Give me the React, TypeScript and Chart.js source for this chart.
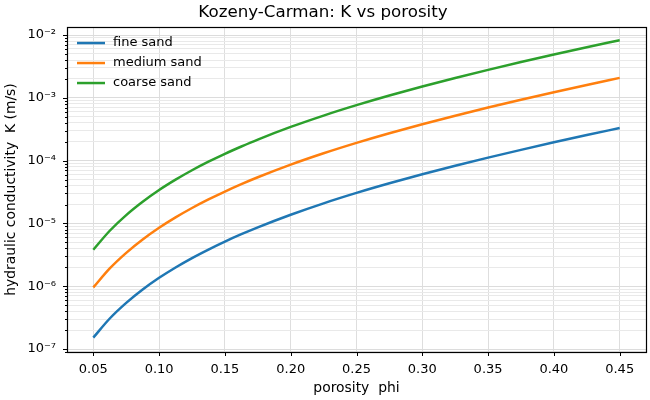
import { useEffect, useRef } from "react";
import { Chart, registerables } from "chart.js";

Chart.register(...registerables);

// Porosity sample points and hydraulic conductivity (m/s) for each sand class
const porosity = [
  0.05, 0.0625, 0.075, 0.0875, 0.1, 0.1125, 0.125, 0.1375, 0.15, 0.1625, 0.175,
  0.2, 0.225, 0.25, 0.275, 0.3, 0.325, 0.35, 0.375, 0.4, 0.425, 0.45,
];
const fineSand = [
  1.52e-7, 3.06e-7, 5.42e-7, 8.85e-7, 1.36e-6, 1.99e-6, 2.81e-6, 3.84e-6,
  5.14e-6, 6.73e-6, 8.66e-6, 1.375e-5, 2.09e-5, 3.06e-5, 4.35e-5, 6.06e-5,
  8.29e-5, 1.117e-4, 1.485e-4, 1.956e-4, 2.554e-4, 3.31e-4,
];
const mediumSand = [
  9.56e-7, 1.92e-6, 3.4e-6, 5.55e-6, 8.52e-6, 1.247e-5, 1.76e-5, 2.41e-5,
  3.22e-5, 4.22e-5, 5.43e-5, 8.63e-5, 1.309e-4, 1.917e-4, 2.73e-4, 3.8e-4,
  5.2e-4, 7.0e-4, 9.32e-4, 1.227e-3, 1.602e-3, 2.078e-3,
];
const coarseSand = [
  3.81e-6, 7.64e-6, 1.356e-5, 2.21e-5, 3.4e-5, 4.97e-5, 7.02e-5, 9.61e-5,
  1.285e-4, 1.68e-4, 2.165e-4, 3.44e-4, 5.22e-4, 7.64e-4, 1.088e-3, 1.515e-3,
  2.072e-3, 2.79e-3, 3.71e-3, 4.89e-3, 6.39e-3, 8.28e-3,
];
const seriesLabels = ["fine sand", "medium sand", "coarse sand"];
const seriesColors = ["#1f77b4", "#ff7f0e", "#2ca02c"];

const xTicks = [0.05, 0.1, 0.15, 0.2, 0.25, 0.3, 0.35, 0.4, 0.45];
const yDecades = [-8, -7, -6, -5, -4, -3, -2];
const yMin = 8.96e-8;
const yMax = 1.341e-2;

const FONT = "'DejaVu Sans', sans-serif";
const SUP: Record<string, string> = {
  "-": "\u207b", "0": "\u2070", "1": "\u00b9", "2": "\u00b2", "3": "\u00b3",
  "4": "\u2074", "5": "\u2075", "6": "\u2076", "7": "\u2077", "8": "\u2078", "9": "\u2079",
};

function decadeOf(v: number): number | null {
  const e = Math.round(Math.log10(v));
  return Math.abs(v / Math.pow(10, e) - 1) < 1e-6 ? e : null;
}

function powLabel(e: number): string {
  return "10" + String(e).split("").map((c) => SUP[c] ?? c).join("");
}

// Every 1..9 x 10^n value inside the axis range
const yTickValues: number[] = [];
yDecades.forEach((e) => {
  for (let m = 1; m <= 9; m++) {
    const v = m * Math.pow(10, e);
    if (v >= yMin && v <= yMax) yTickValues.push(v);
  }
});

const framePlugin = {
  id: "frameAndTicks",
  afterDraw(chart: any) {
    const { ctx, chartArea, scales } = chart;
    const { left, right, top, bottom } = chartArea;
    ctx.save();
    ctx.strokeStyle = "#000";
    ctx.lineWidth = 1;
    // y tick marks (long for decades, short for minors)
    scales.y.ticks.forEach((t: any) => {
      const p = Math.round(scales.y.getPixelForValue(t.value)) + 0.5;
      const len = decadeOf(t.value) !== null ? 4 : 2;
      ctx.beginPath();
      ctx.moveTo(Math.round(left) - len, p);
      ctx.lineTo(Math.round(left), p);
      ctx.stroke();
    });
    // x tick marks
    scales.x.ticks.forEach((t: any) => {
      const p = Math.round(scales.x.getPixelForValue(t.value)) + 0.5;
      ctx.beginPath();
      ctx.moveTo(p, Math.round(bottom));
      ctx.lineTo(p, Math.round(bottom) + 4);
      ctx.stroke();
    });
    // axes frame
    ctx.lineWidth = 1.2;
    ctx.strokeRect(
      Math.round(left) + 0.5,
      Math.round(top) + 0.5,
      Math.round(right) - Math.round(left),
      Math.round(bottom) - Math.round(top)
    );
    // legend in the upper-left corner of the plot
    ctx.font = `13px ${FONT}`;
    ctx.textBaseline = "middle";
    ctx.textAlign = "left";
    chart.data.datasets.forEach((ds: any, i: number) => {
      const y = top + 16 + i * 20;
      ctx.strokeStyle = ds.borderColor;
      ctx.lineWidth = 2.5;
      ctx.beginPath();
      ctx.moveTo(left + 10, y);
      ctx.lineTo(left + 38, y);
      ctx.stroke();
      ctx.fillStyle = "#000";
      ctx.fillText(ds.label, left + 46, y);
    });
    ctx.restore();
  },
};

export default function App() {
  const canvasRef = useRef<HTMLCanvasElement | null>(null);

  useEffect(() => {
    if (!canvasRef.current) return;
    const series = [fineSand, mediumSand, coarseSand];
    const chart = new Chart(canvasRef.current, {
      type: "line",
      data: {
        datasets: series.map((vals, i) => ({
          label: seriesLabels[i],
          data: porosity.map((x, j) => ({ x, y: vals[j] })),
          borderColor: seriesColors[i],
          backgroundColor: seriesColors[i],
          borderWidth: 2.5,
          pointRadius: 0,
          fill: false,
          cubicInterpolationMode: "monotone" as const,
        })),
      },
      options: {
        responsive: false,
        animation: false,
        devicePixelRatio: 1,
        layout: { padding: { left: 0, right: 4, top: 0, bottom: 0 } },
        plugins: {
          legend: { display: false },
          tooltip: { enabled: false },
          title: {
            display: true,
            text: "Kozeny-Carman: K vs porosity",
            color: "#000",
            font: { family: FONT, size: 16.7, weight: "normal" },
            padding: { top: 3, bottom: 4 },
          },
        },
        scales: {
          x: {
            type: "linear",
            min: 0.03,
            max: 0.47,
            afterBuildTicks: (scale: any) => {
              scale.ticks = xTicks.map((v) => ({ value: v }));
            },
            afterFit: (scale: any) => {
              scale.height = 48;
            },
            ticks: {
              autoSkip: false,
              maxRotation: 0,
              padding: 6,
              color: "#000",
              font: { family: FONT, size: 13 },
              callback: (v: any) => Number(v).toFixed(2),
            },
            grid: {
              color: "#dedede",
              lineWidth: 1,
              drawTicks: true,
              tickLength: 4,
              tickColor: "rgba(0,0,0,0)",
            },
            border: { display: false },
            title: {
              display: true,
              text: "porosity  phi",
              color: "#000",
              font: { family: FONT, size: 13.9 },
              padding: { top: 0, bottom: 3 },
            },
          },
          y: {
            type: "logarithmic",
            min: yMin,
            max: yMax,
            afterBuildTicks: (scale: any) => {
              scale.ticks = yTickValues.map((v) => ({ value: v }));
            },
            afterFit: (scale: any) => {
              scale.width = 67;
            },
            ticks: {
              autoSkip: false,
              padding: 7,
              color: "#000",
              font: { family: FONT, size: 13 },
              callback: (v: any) => {
                const e = decadeOf(Number(v));
                return e === null ? "" : powLabel(e);
              },
            },
            grid: {
              color: (c: any) =>
                c.tick && decadeOf(c.tick.value) !== null ? "#dcdcdc" : "#e9e9e9",
              lineWidth: 1,
              drawTicks: true,
              tickLength: 4,
              tickColor: "rgba(0,0,0,0)",
            },
            border: { display: false },
            title: {
              display: true,
              text: "hydraulic conductivity  K (m/s)",
              color: "#000",
              font: { family: FONT, size: 13.9 },
              padding: { top: 3, bottom: 0 },
            },
          },
        },
      },
      plugins: [framePlugin],
    });
    return () => chart.destroy();
  }, []);

  return (
    <div style={{ position: "absolute", left: 0, top: 0, width: 650, height: 400, background: "#fff" }}>
      <canvas ref={canvasRef} width={650} height={400} style={{ display: "block" }} />
    </div>
  );
}
